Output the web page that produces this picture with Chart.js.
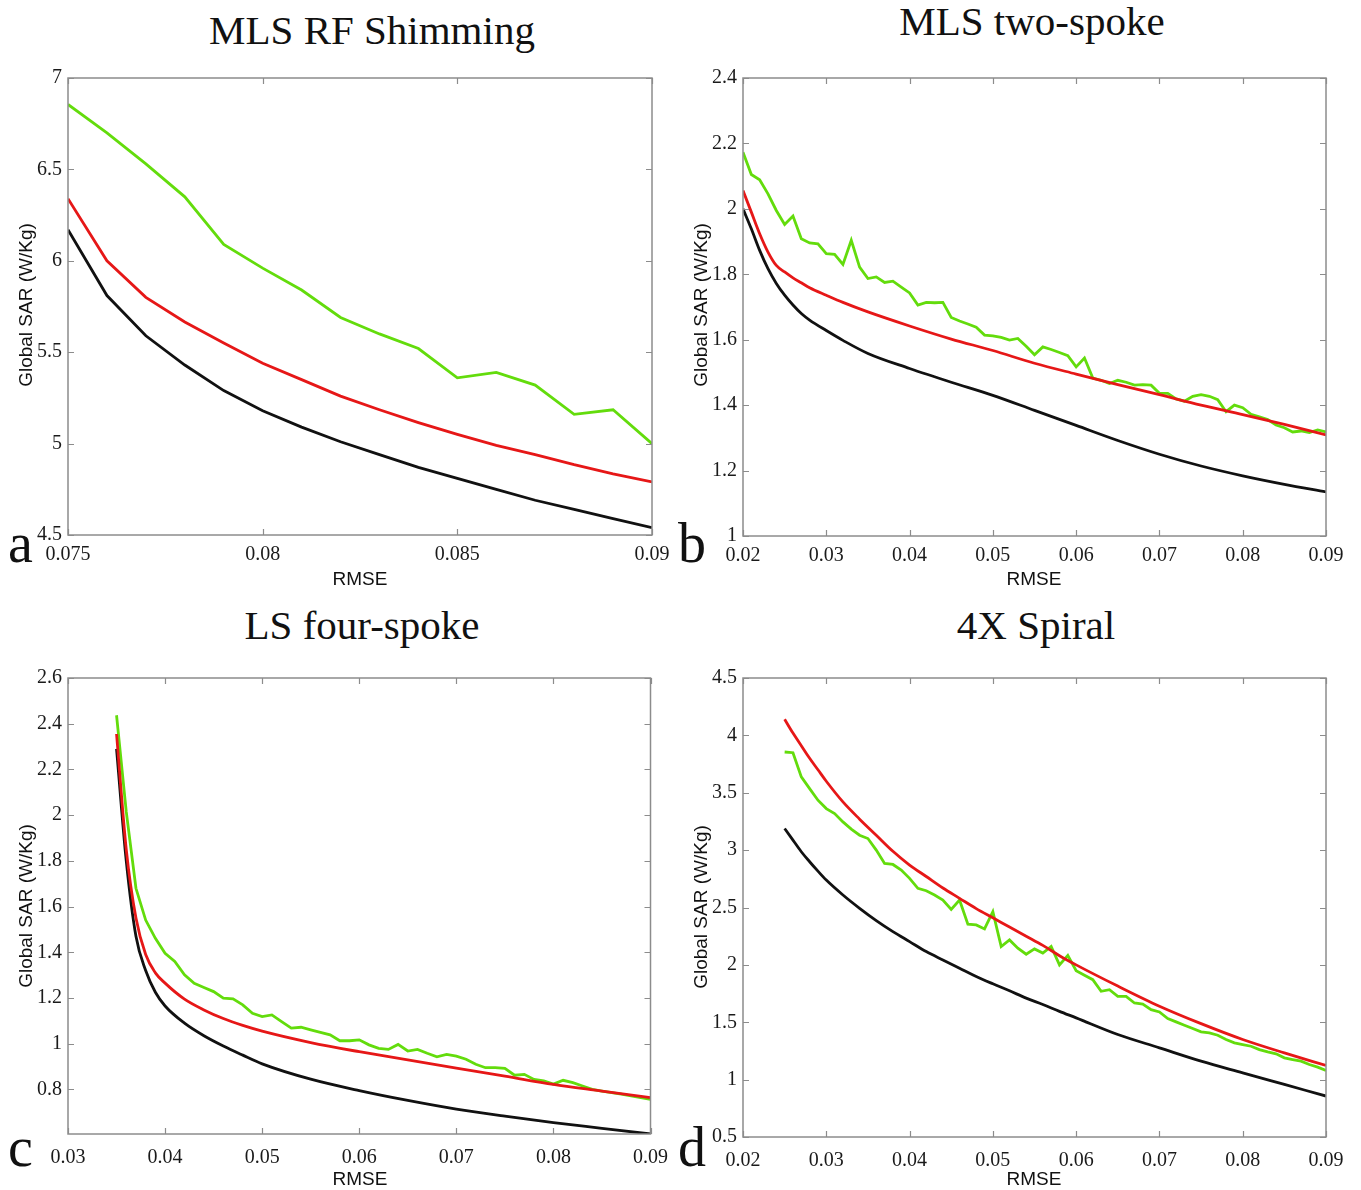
<!DOCTYPE html>
<html>
<head>
<meta charset="utf-8">
<script src="https://cdn.jsdelivr.net/npm/chart.js@4.4.1/dist/chart.umd.min.js"></script>
<style>
    body { margin: 0; background: #fff; width: 1361px; height: 1190px; position: relative; overflow: hidden; }
    canvas { position: absolute; }
    .title { position: absolute; font-family: 'Liberation Serif', 'Times New Roman', serif; font-size: 41px; line-height: 41px; white-space: nowrap; transform: translateX(-50%); color: #111; }
    .letter { position: absolute; font-family: 'Liberation Serif', 'Times New Roman', serif; font-size: 56px; line-height: 56px; color: #111; }
    .ylab { position: absolute; font-family: 'Liberation Sans', Arial, sans-serif; font-size: 19px; line-height: 19px; white-space: nowrap; transform: translate(-50%, -50%) rotate(-90deg); color: #111; }
    .xlab { position: absolute; font-family: 'Liberation Sans', Arial, sans-serif; font-size: 19px; line-height: 19px; white-space: nowrap; transform: translate(-50%, -50%); color: #111; }
</style>
</head>
<body>
<canvas id="chartA" width="680" height="540" style="left:0;top:60px"></canvas>
<canvas id="chartB" width="681" height="540" style="left:680px;top:60px"></canvas>
<canvas id="chartC" width="680" height="530" style="left:0;top:660px"></canvas>
<canvas id="chartD" width="681" height="530" style="left:680px;top:660px"></canvas>

<div class="title" style="left:372px;top:10px">MLS RF Shimming</div>
<div class="title" style="left:1032px;top:1px">MLS two-spoke</div>
<div class="title" style="left:362px;top:605px">LS four-spoke</div>
<div class="title" style="left:1036px;top:605px">4X Spiral</div>

<div class="letter" style="left:8px;top:515px">a</div>
<div class="letter" style="left:678px;top:515px">b</div>
<div class="letter" style="left:8px;top:1119px">c</div>
<div class="letter" style="left:678px;top:1119px">d</div>

<div class="ylab" style="left:25px;top:305px">Global SAR (W/Kg)</div>
<div class="ylab" style="left:700px;top:305px">Global SAR (W/Kg)</div>
<div class="ylab" style="left:25px;top:906px">Global SAR (W/Kg)</div>
<div class="ylab" style="left:700px;top:907px">Global SAR (W/Kg)</div>

<div class="xlab" style="left:360px;top:578px">RMSE</div>
<div class="xlab" style="left:1034px;top:578px">RMSE</div>
<div class="xlab" style="left:360px;top:1178px">RMSE</div>
<div class="xlab" style="left:1034px;top:1178px">RMSE</div>

<script>
// ---- Panel a: MLS RF Shimming ----
const rmseA = [0.075, 0.076, 0.077, 0.078, 0.079, 0.080, 0.081, 0.082, 0.083, 0.084, 0.085, 0.086, 0.087, 0.088, 0.089, 0.090];
const blackA = [6.17, 5.81, 5.59, 5.43, 5.29, 5.18, 5.09, 5.01, 4.94, 4.87, 4.81, 4.75, 4.69, 4.64, 4.59, 4.54];
const redA = [6.34, 6.00, 5.80, 5.665, 5.55, 5.44, 5.35, 5.26, 5.185, 5.115, 5.05, 4.99, 4.94, 4.885, 4.835, 4.79];
const greenA = [6.855, 6.70, 6.53, 6.35, 6.09, 5.96, 5.84, 5.69, 5.60, 5.52, 5.36, 5.39, 5.32, 5.16, 5.185, 5.00];
const xTicksA = [0.075, 0.08, 0.085, 0.09];
const xLabelsA = ['0.075', '0.08', '0.085', '0.09'];
const yTicksA = [4.5, 5, 5.5, 6, 6.5, 7];
const yLabelsA = ['4.5', '5', '5.5', '6', '6.5', '7'];

// ---- Panel b: MLS two-spoke ----
const rmseB = [0.020, 0.021, 0.022, 0.023, 0.024, 0.025, 0.026, 0.027, 0.028, 0.030, 0.032, 0.035, 0.040, 0.045, 0.050, 0.055, 0.060, 0.065, 0.070, 0.075, 0.080, 0.085, 0.090];
const blackB = [2.0, 1.939, 1.873, 1.817, 1.772, 1.736, 1.706, 1.68, 1.66, 1.628, 1.598, 1.558, 1.512, 1.47, 1.43, 1.384, 1.338, 1.292, 1.25, 1.214, 1.184, 1.158, 1.135];
const redB = [2.056, 1.99, 1.924, 1.868, 1.827, 1.807, 1.789, 1.774, 1.759, 1.736, 1.714, 1.685, 1.642, 1.602, 1.567, 1.528, 1.495, 1.463, 1.432, 1.40, 1.371, 1.341, 1.309];
const rmseBg = [0.020, 0.021, 0.022, 0.023, 0.024, 0.025, 0.026, 0.027, 0.028, 0.029, 0.030, 0.031, 0.032, 0.033, 0.034, 0.035, 0.036, 0.037, 0.038, 0.039,
    0.040, 0.041, 0.042, 0.043, 0.044, 0.045, 0.046, 0.047, 0.048, 0.049, 0.050, 0.051, 0.052, 0.053, 0.054, 0.055, 0.056, 0.057, 0.058, 0.059,
    0.060, 0.061, 0.062, 0.063, 0.064, 0.065, 0.066, 0.067, 0.068, 0.069, 0.070, 0.071, 0.072, 0.073, 0.074, 0.075, 0.076, 0.077, 0.078, 0.079,
    0.080, 0.081, 0.082, 0.083, 0.084, 0.085, 0.086, 0.087, 0.088, 0.089, 0.090];
const greenB = [2.173, 2.105, 2.089, 2.046, 1.995, 1.952, 1.978, 1.909, 1.896, 1.893, 1.863, 1.861, 1.830, 1.904, 1.822, 1.787, 1.792, 1.775, 1.779, 1.761,
    1.743, 1.706, 1.714, 1.713, 1.714, 1.668, 1.657, 1.648, 1.638, 1.614, 1.612, 1.607, 1.599, 1.604, 1.58, 1.554, 1.578, 1.57, 1.561, 1.551,
    1.517, 1.544, 1.483, 1.476, 1.466, 1.476, 1.47, 1.461, 1.463, 1.461, 1.436, 1.436, 1.419, 1.412, 1.427, 1.432, 1.427, 1.417, 1.38, 1.40,
    1.392, 1.372, 1.364, 1.356, 1.339, 1.331, 1.318, 1.321, 1.316, 1.324, 1.318];
const xTicksB = [0.02, 0.03, 0.04, 0.05, 0.06, 0.07, 0.08, 0.09];
const xLabelsB = ['0.02', '0.03', '0.04', '0.05', '0.06', '0.07', '0.08', '0.09'];
const yTicksB = [1, 1.2, 1.4, 1.6, 1.8, 2, 2.2, 2.4];
const yLabelsB = ['1', '1.2', '1.4', '1.6', '1.8', '2', '2.2', '2.4'];

// ---- Panel c: LS four-spoke ----
const rmseC = [0.035, 0.036, 0.037, 0.038, 0.039, 0.040, 0.042, 0.044, 0.046, 0.048, 0.050, 0.055, 0.060, 0.065, 0.070, 0.075, 0.080, 0.085, 0.090];
const blackC = [2.29, 1.80, 1.47, 1.32, 1.225, 1.165, 1.09, 1.035, 0.99, 0.95, 0.912, 0.845, 0.795, 0.752, 0.714, 0.683, 0.655, 0.63, 0.605];
const redC = [2.355, 1.85, 1.55, 1.39, 1.31, 1.265, 1.195, 1.148, 1.11, 1.08, 1.055, 1.005, 0.965, 0.929, 0.893, 0.858, 0.822, 0.793, 0.764];
const rmseCg = [0.035, 0.036, 0.037, 0.038, 0.039, 0.040, 0.041, 0.042, 0.043, 0.044, 0.045, 0.046, 0.047, 0.048, 0.049,
    0.050, 0.051, 0.052, 0.053, 0.054, 0.055, 0.056, 0.057, 0.058, 0.059, 0.060, 0.061, 0.062, 0.063, 0.064,
    0.065, 0.066, 0.067, 0.068, 0.069, 0.070, 0.071, 0.072, 0.073, 0.074, 0.075, 0.076, 0.077, 0.078, 0.079,
    0.080, 0.081, 0.082, 0.083, 0.084, 0.085, 0.086, 0.087, 0.088, 0.089, 0.090];
const greenC = [2.437, 2.015, 1.68, 1.541, 1.461, 1.396, 1.36, 1.301, 1.264, 1.246, 1.228, 1.199, 1.196, 1.17, 1.133,
    1.119, 1.126, 1.097, 1.068, 1.072, 1.061, 1.05, 1.039, 1.013, 1.013, 1.017, 0.995, 0.98, 0.975, 0.997,
    0.968, 0.975, 0.958, 0.943, 0.953, 0.946, 0.932, 0.91, 0.895, 0.895, 0.892, 0.862, 0.866, 0.844, 0.837,
    0.823, 0.84, 0.83, 0.815, 0.80, 0.793, 0.786, 0.779, 0.772, 0.764, 0.757];
const xTicksC = [0.03, 0.04, 0.05, 0.06, 0.07, 0.08, 0.09];
const xLabelsC = ['0.03', '0.04', '0.05', '0.06', '0.07', '0.08', '0.09'];
const yTicksC = [0.8, 1, 1.2, 1.4, 1.6, 1.8, 2, 2.2, 2.4, 2.6];
const yLabelsC = ['0.8', '1', '1.2', '1.4', '1.6', '1.8', '2', '2.2', '2.4', '2.6'];

// ---- Panel d: 4X Spiral ----
const rmseD = [0.025, 0.026, 0.027, 0.028, 0.029, 0.030, 0.032, 0.034, 0.036, 0.038, 0.040, 0.042, 0.044, 0.046, 0.048, 0.050, 0.052, 0.054, 0.056, 0.058, 0.060, 0.065, 0.070, 0.075, 0.080, 0.085, 0.090];
const blackD = [3.188, 3.087, 2.986, 2.899, 2.817, 2.739, 2.609, 2.493, 2.386, 2.29, 2.203, 2.116, 2.043, 1.971, 1.899, 1.835, 1.774, 1.71, 1.655, 1.595, 1.538, 1.393, 1.277, 1.161, 1.059, 0.958, 0.857];
const redD = [4.14, 4.02, 3.91, 3.80, 3.70, 3.60, 3.42, 3.27, 3.13, 2.99, 2.87, 2.77, 2.67, 2.58, 2.49, 2.41, 2.33, 2.25, 2.17, 2.08, 2.0, 1.815, 1.64, 1.488, 1.35, 1.233, 1.123];
const rmseDg = [0.025, 0.026, 0.027, 0.028, 0.029, 0.030, 0.031, 0.032, 0.033, 0.034, 0.035, 0.036, 0.037, 0.038, 0.039,
    0.040, 0.041, 0.042, 0.043, 0.044, 0.045, 0.046, 0.047, 0.048, 0.049, 0.050, 0.051, 0.052, 0.053, 0.054,
    0.055, 0.056, 0.057, 0.058, 0.059, 0.060, 0.061, 0.062, 0.063, 0.064, 0.065, 0.066, 0.067, 0.068, 0.069,
    0.070, 0.071, 0.072, 0.073, 0.074, 0.075, 0.076, 0.077, 0.078, 0.079, 0.080, 0.081, 0.082, 0.083, 0.084,
    0.085, 0.086, 0.087, 0.088, 0.089, 0.090];
const greenD = [3.855, 3.849, 3.638, 3.536, 3.435, 3.362, 3.319, 3.246, 3.183, 3.13, 3.101, 3.0, 2.884, 2.875, 2.826,
    2.754, 2.667, 2.646, 2.609, 2.565, 2.484, 2.565, 2.354, 2.348, 2.313, 2.464, 2.159, 2.217, 2.145, 2.093,
    2.139, 2.103, 2.161, 2.0, 2.083, 1.949, 1.909, 1.871, 1.77, 1.784, 1.726, 1.726, 1.668, 1.659, 1.61,
    1.59, 1.532, 1.503, 1.474, 1.445, 1.416, 1.407, 1.387, 1.349, 1.32, 1.306, 1.291, 1.262, 1.242, 1.225,
    1.19, 1.175, 1.161, 1.132, 1.109, 1.08];
const xTicksD = [0.02, 0.03, 0.04, 0.05, 0.06, 0.07, 0.08, 0.09];
const xLabelsD = ['0.02', '0.03', '0.04', '0.05', '0.06', '0.07', '0.08', '0.09'];
const yTicksD = [0.5, 1, 1.5, 2, 2.5, 3, 3.5, 4, 4.5];
const yLabelsD = ['0.5', '1', '1.5', '2', '2.5', '3', '3.5', '4', '4.5'];

const BLACK = '#111111';
const RED = '#e61717';
const GREEN = '#63dc0c';

function pts(xs, ys) {
    return xs.map((x, i) => ({ x: x, y: ys[i] }));
}

// MATLAB-style box with inward tick marks on all four sides
const matlabBox = {
    id: 'matlabBox',
    afterDraw(chart) {
        const { ctx, chartArea: a, scales: { x, y } } = chart;
        ctx.save();
        ctx.strokeStyle = '#8c8c8c';
        ctx.lineWidth = 1.5;
        ctx.strokeRect(a.left, a.top, a.right - a.left, a.bottom - a.top);
        ctx.lineWidth = 1.2;
        ctx.beginPath();
        x.ticks.forEach(t => {
            const px = Math.round(x.getPixelForValue(t.value)) + 0.5;
            ctx.moveTo(px, a.bottom); ctx.lineTo(px, a.bottom - 6);
            ctx.moveTo(px, a.top); ctx.lineTo(px, a.top + 6);
        });
        y.ticks.forEach(t => {
            const py = Math.round(y.getPixelForValue(t.value)) + 0.5;
            ctx.moveTo(a.left, py); ctx.lineTo(a.left + 6, py);
            ctx.moveTo(a.right, py); ctx.lineTo(a.right - 6, py);
        });
        ctx.stroke();
        ctx.restore();
    }
};

function makePanel(id, p) {
    const ctx = document.getElementById(id).getContext('2d');
    const tickFont = { family: "'Liberation Serif', 'Times New Roman', serif", size: 20 };
    const line = (data, color, smooth) => ({
        data: data,
        borderColor: color,
        borderWidth: 2.8,
        pointRadius: 0,
        fill: false,
        tension: 0,
        cubicInterpolationMode: smooth ? 'monotone' : 'default'
    });
    return new Chart(ctx, {
        type: 'line',
        data: {
            datasets: [
                line(p.red, RED, p.smooth),
                line(p.green, GREEN, false),
                line(p.black, BLACK, p.smooth)
            ]
        },
        options: {
            responsive: false,
            animation: false,
            layout: { padding: { top: p.padTop, right: p.padRight, left: 0, bottom: 0 } },
            plugins: { legend: { display: false }, tooltip: { enabled: false } },
            scales: {
                x: {
                    type: 'linear',
                    min: p.xMin,
                    max: p.xMax,
                    grid: { display: false, drawTicks: false },
                    border: { display: false },
                    afterBuildTicks: s => { s.ticks = p.xTicks.map(v => ({ value: v })); },
                    afterFit: s => { s.height = p.xAxisH; },
                    ticks: {
                        font: tickFont,
                        color: '#1a1a1a',
                        padding: p.xPad,
                        maxRotation: 0,
                        autoSkip: false,
                        callback: (v, i) => p.xLabels[i]
                    }
                },
                y: {
                    type: 'linear',
                    min: p.yMin,
                    max: p.yMax,
                    grid: { display: false, drawTicks: false },
                    border: { display: false },
                    afterBuildTicks: s => { s.ticks = p.yTicks.map(v => ({ value: v })); },
                    afterFit: s => { s.width = p.yAxisW; },
                    ticks: {
                        font: tickFont,
                        color: '#1a1a1a',
                        padding: 6,
                        autoSkip: false,
                        callback: (v, i) => p.yLabels[i]
                    }
                }
            }
        },
        plugins: [matlabBox]
    });
}

makePanel('chartA', {
    red: pts(rmseA, redA), green: pts(rmseA, greenA), black: pts(rmseA, blackA), smooth: false,
    xMin: 0.075, xMax: 0.09, yMin: 4.5, yMax: 7,
    xTicks: xTicksA, xLabels: xLabelsA, yTicks: yTicksA, yLabels: yLabelsA,
    padTop: 14, padRight: 28, yAxisW: 68, xAxisH: 65, xPad: 8
});

makePanel('chartB', {
    red: pts(rmseB, redB), green: pts(rmseBg, greenB), black: pts(rmseB, blackB), smooth: true,
    xMin: 0.02, xMax: 0.09, yMin: 1, yMax: 2.4,
    xTicks: xTicksB, xLabels: xLabelsB, yTicks: yTicksB, yLabels: yLabelsB,
    padTop: 14, padRight: 35, yAxisW: 63, xAxisH: 64, xPad: 8
});

makePanel('chartC', {
    red: pts(rmseC, redC), green: pts(rmseCg, greenC), black: pts(rmseC, blackC), smooth: true,
    xMin: 0.03, xMax: 0.09, yMin: 0.605, yMax: 2.6,
    xTicks: xTicksC, xLabels: xLabelsC, yTicks: yTicksC, yLabels: yLabelsC,
    padTop: 17, padRight: 28, yAxisW: 68, xAxisH: 56, xPad: 12
});

makePanel('chartD', {
    red: pts(rmseD, redD), green: pts(rmseDg, greenD), black: pts(rmseD, blackD), smooth: true,
    xMin: 0.02, xMax: 0.09, yMin: 0.5, yMax: 4.5,
    xTicks: xTicksD, xLabels: xLabelsD, yTicks: yTicksD, yLabels: yLabelsD,
    padTop: 17, padRight: 35, yAxisW: 63, xAxisH: 53, xPad: 12
});
</script>
</body>
</html>
